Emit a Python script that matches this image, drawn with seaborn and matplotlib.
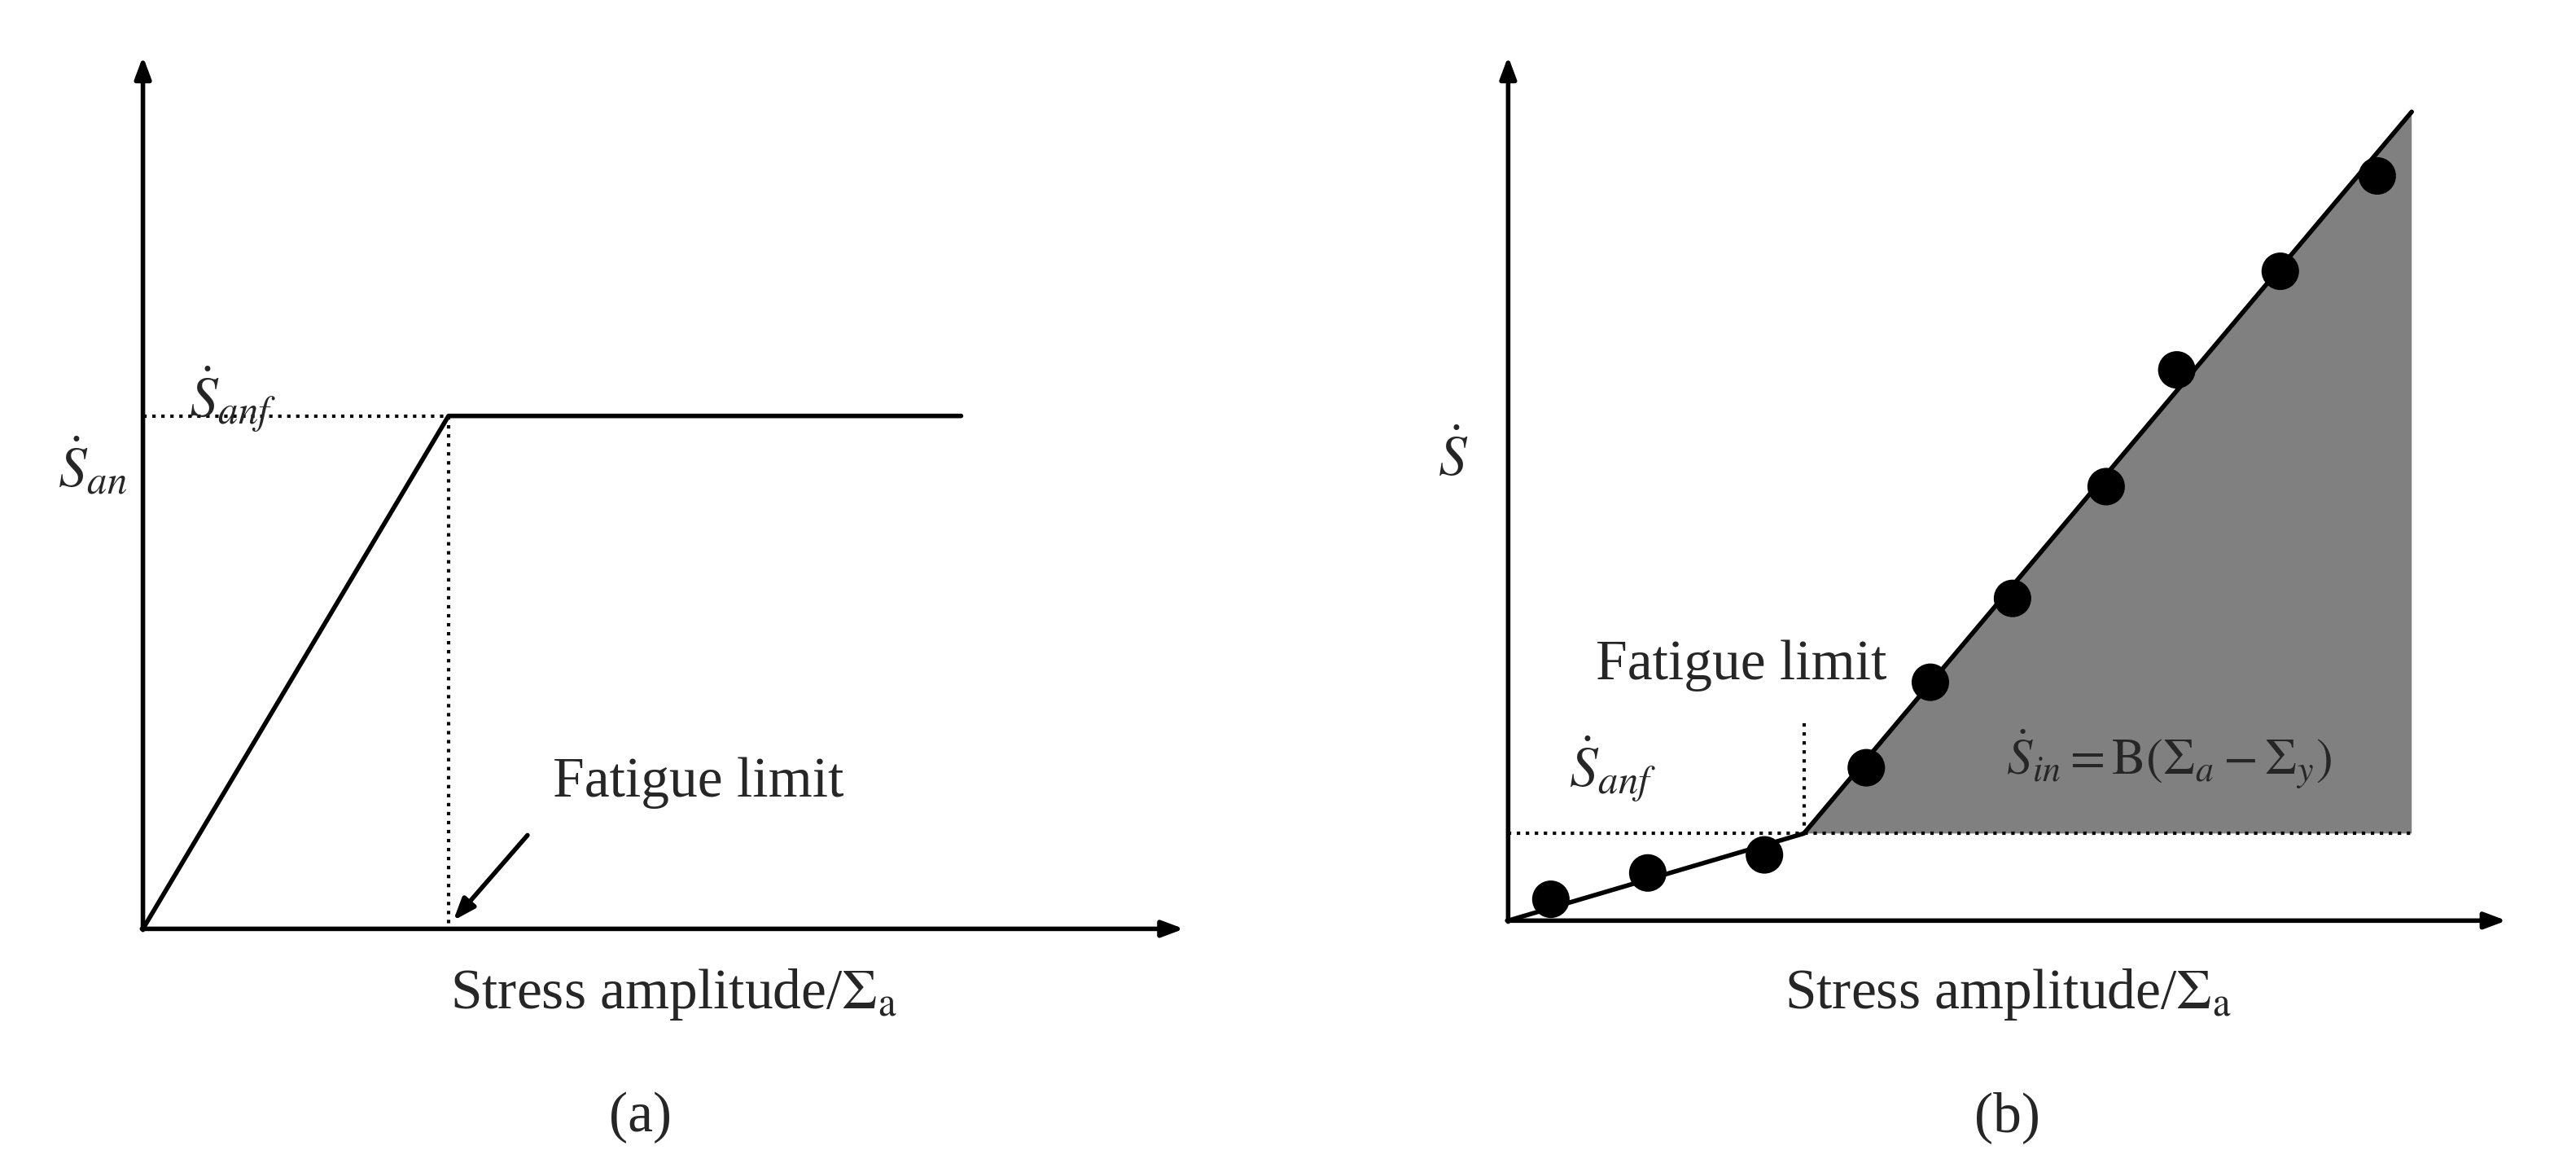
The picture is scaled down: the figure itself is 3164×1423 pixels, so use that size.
import numpy as np
import pandas as pd
import matplotlib.pyplot as plt
import seaborn as sns

sns.set_style("white")
plt.rcParams['font.family'] = ['Liberation Serif', 'DejaVu Serif']
plt.rcParams['mathtext.fontset'] = 'stix'

# panel (a) schematic, in picture units (x right, y down)
a_line_x = [87, 273, 585]
a_line_y = [565, 253, 253]
a_knee = (273, 253)

# panel (b) schematic
b_line_x = [918, 1098, 1468]
b_line_y = [560, 507, 68]
b_pts_x = [944, 1003, 1074, 1136, 1175, 1225, 1282, 1325, 1388, 1447]
b_pts_y = [547, 531, 520, 467, 415, 364, 296, 225, 165, 107]

fig = plt.figure(figsize=(31.64, 14.23), dpi=100)
ax = fig.add_axes([0, 0, 1, 1])
ax.set_xlim(0, 1568)
ax.set_ylim(705, 0)
ax.axis('off')

lw = 4
fs = 50
arrow = dict(arrowstyle='-|>,head_length=1.6,head_width=0.6', color='black', lw=lw)

# axes arrows
for ox, oy, xe, yt in [(87, 565, 722, 33), (918, 560, 1527, 33)]:
    ax.annotate('', xy=(xe, oy), xytext=(ox - 2, oy), arrowprops=arrow)
    ax.annotate('', xy=(ox, yt), xytext=(ox, oy + 2), arrowprops=arrow)

# (a)
sns.lineplot(x=a_line_x, y=a_line_y, sort=False, color='black', lw=lw, ax=ax)
ax.plot([87, a_knee[0]], [a_knee[1]] * 2, ls=':', color='black', lw=3)
ax.plot([a_knee[0]] * 2, [a_knee[1], 565], ls=':', color='black', lw=3)
ax.text(115, 243, r'$\dot{S}_{anf}$', fontsize=fs, va='center')
ax.text(35, 285, r'$\dot{S}_{an}$', fontsize=fs, va='center')
ax.text(425, 476, 'Fatigue limit', fontsize=fs, ha='center', va='center')
ax.annotate('', xy=(275, 561), xytext=(322, 507), arrowprops=arrow)
ax.text(410, 605, r'Stress amplitude/$\Sigma_{\rm a}$', fontsize=fs, ha='center', va='center')
ax.text(390, 680, '(a)', fontsize=fs, ha='center', va='center')

# (b)
ax.fill([b_line_x[1], b_line_x[2], b_line_x[2]], [b_line_y[1], b_line_y[2], b_line_y[1]],
        color='#808080', lw=0)
sns.lineplot(x=b_line_x, y=b_line_y, sort=False, color='black', lw=lw, ax=ax)
ax.plot([918, 1468], [507, 507], ls=':', color='black', lw=3)
ax.plot([1098, 1098], [440, 507], ls=':', color='black', lw=3)
sns.scatterplot(x=b_pts_x, y=b_pts_y, color='black', s=1100, edgecolor='none', ax=ax, zorder=5)
ax.text(875, 280, r'$\dot{S}$', fontsize=fs, va='center')
ax.text(1060, 405, 'Fatigue limit', fontsize=fs, ha='center', va='center')
ax.text(955, 468, r'$\dot{S}_{anf}$', fontsize=fs, va='center')
ax.text(1320, 462, r'$\dot{S}_{in}=\mathrm{B}(\Sigma_a-\Sigma_y)$', fontsize=fs * 0.9, ha='center', va='center')
ax.text(1222, 605, r'Stress amplitude/$\Sigma_{\rm a}$', fontsize=fs, ha='center', va='center')
ax.text(1222, 680, '(b)', fontsize=fs, ha='center', va='center')

fig.savefig('out.png', dpi=100, facecolor='white')
